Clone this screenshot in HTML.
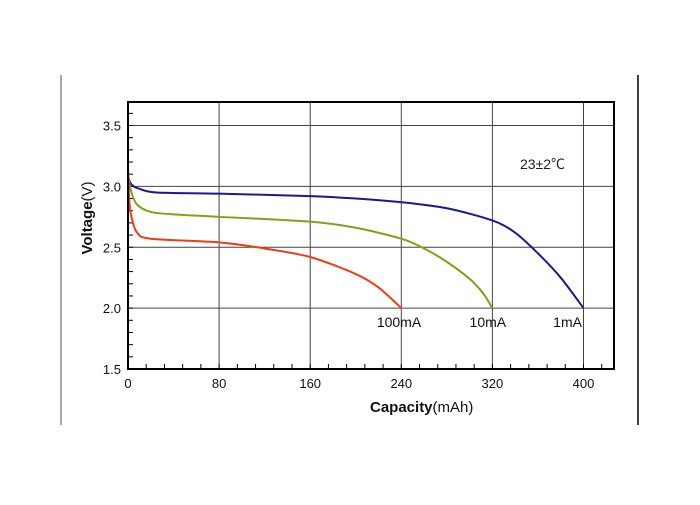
<!DOCTYPE html>
<html><head><meta charset="utf-8"><style>
body{margin:0;background:#fff;}
svg text{font-family:"Liberation Sans","Noto Sans CJK SC",sans-serif;}
</style></head><body>
<svg width="700" height="500" viewBox="0 0 700 500" xmlns="http://www.w3.org/2000/svg">
<line x1="61" y1="75" x2="61" y2="425" stroke="#888" stroke-width="1.5"/>
<line x1="638" y1="75" x2="638" y2="425" stroke="#000" stroke-width="1.5"/>
<g id="grid"></g>
<g id="curves"></g>
<rect x="128" y="102" width="486" height="267" fill="none" stroke="#000" stroke-width="2"/>
<g id="labels"></g>
<text x="520" y="169" font-size="14" fill="#222">23±2℃</text>
<text x="370" y="412" font-size="15" fill="#111"><tspan font-weight="bold">Capacity</tspan>(mAh)</text>
<text transform="translate(92,218) rotate(-90)" text-anchor="middle" font-size="15" fill="#111"><tspan font-weight="bold">Voltage</tspan>(V)</text>
</svg>
<script>
const xTicks=[0,80,160,240,320,400];
const yTicks=[1.5,2.0,2.5,3.0,3.5];
const seriesNames=["1mA","10mA","100mA"];
const seriesColors=["#1a1a8c","#7fa21a","#f03c14"];
const cap1mA=[0,2,5,10,25,80,160,200,240,280,320,340,360,380,400];
const v1mA=[3.08,3.03,3.0,2.98,2.95,2.94,2.92,2.90,2.87,2.82,2.72,2.62,2.45,2.25,2.0];
const cap10mA=[0,3,8,20,40,80,160,200,240,260,280,300,312,320];
const v10mA=[3.08,2.95,2.85,2.79,2.77,2.75,2.71,2.66,2.57,2.49,2.38,2.24,2.12,2.0];
const cap100mA=[0,1,3,8,20,80,120,160,200,220,240];
const v100mA=[3.18,2.9,2.75,2.62,2.57,2.54,2.49,2.42,2.28,2.17,2.0];
const labelPos=[[386,2.0],[316,2.0],[238,2.0]];
const NS="http://www.w3.org/2000/svg";
const X=v=>128+v*(583.5-128)/400;
const Y=v=>369-(v-1.5)*(369-125.5)/2.0;
function mk(t,a,p){const e=document.createElementNS(NS,t);for(const k in a)e.setAttribute(k,a[k]);p.appendChild(e);return e;}
function smooth(P){let d='M'+P[0][0]+','+P[0][1];for(let i=0;i<P.length-1;i++){const p0=P[i-1]||P[i],p1=P[i],p2=P[i+1],p3=P[i+2]||p2;const t=0.15;d+=' C'+(p1[0]+(p2[0]-p0[0])*t)+','+(p1[1]+(p2[1]-p0[1])*t)+' '+(p2[0]-(p3[0]-p1[0])*t)+','+(p2[1]-(p3[1]-p1[1])*t)+' '+p2[0]+','+p2[1];}return d;}
const grid=document.getElementById('grid');
xTicks.forEach(t=>{
  if(t>0){const l=mk('line',{x1:X(t),y1:102,x2:X(t),y2:369,stroke:'#444','stroke-width':1},grid);
  
  }
  const tx=mk('text',{x:X(t),y:388,'text-anchor':'middle','font-size':13,fill:'#111'},grid);tx.textContent=t;
  
  
});
for(let v=0;v<=427;v+=16){const l=mk('line',{x1:X(v),y1:369,x2:X(v),y2:364,stroke:'#000','stroke-width':1},grid);
  
  }
yTicks.forEach(t=>{
  if(t>1.5){const l=mk('line',{x1:128,y1:Y(t),x2:614,y2:Y(t),stroke:'#444','stroke-width':1},grid);
  
  }
  const tx=mk('text',{x:121,y:Y(t)+5,'text-anchor':'end','font-size':13,fill:'#111'},grid);tx.textContent=t.toFixed(1);
  
  
});
for(let v=1.5;v<=3.65;v+=0.1){const l=mk('line',{x1:128,y1:Y(v),x2:133,y2:Y(v),stroke:'#000','stroke-width':1},grid);
  
  }
const curves=document.getElementById('curves');
const data=[[cap1mA,v1mA],[cap10mA,v10mA],[cap100mA,v100mA]];
data.forEach((d,i)=>{
  const P=d[0].map((c,j)=>[X(c),Y(d[1][j])]);
  const p=mk('path',{d:smooth(P),fill:'none',stroke:seriesColors[i],'stroke-width':2,'stroke-linejoin':'round'},curves);
  
  
  const tx=mk('text',{x:X(labelPos[i][0]),y:Y(labelPos[i][1])+19,'text-anchor':'middle','font-size':14,fill:'#111'},document.getElementById('labels'));
  tx.textContent=seriesNames[i];
  
  
});
</script>
</body></html>
